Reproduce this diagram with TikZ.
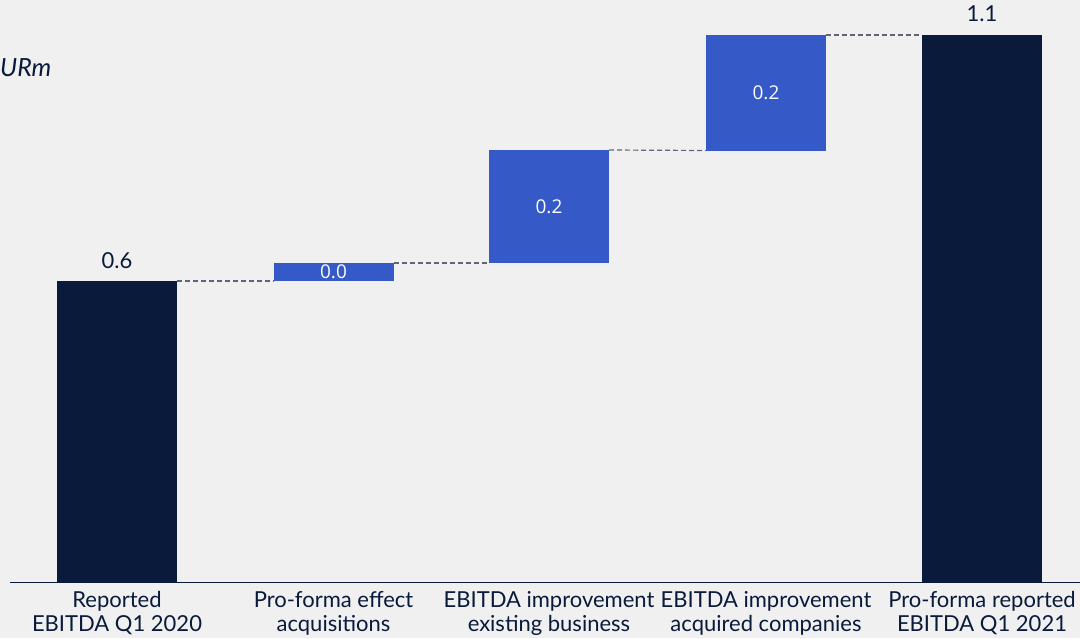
\documentclass[tikz,border=0pt]{standalone}
\usepackage{fontspec}
\setmainfont{Lato}
\newfontfamily\valfont{Open Sans}
\definecolor{bg}{HTML}{F0F0F0}
\definecolor{navy}{HTML}{0A1A3B}
\definecolor{barblue}{HTML}{3559C7}
\definecolor{dashgray}{HTML}{5F6677}
\begin{document}
\begin{tikzpicture}[x=1pt,y=-1pt,
  barbox/.style={rectangle, inner sep=0pt, outer sep=0pt, minimum width=120pt},
  totalbar/.style={barbox, fill=navy},
  deltabar/.style={barbox, fill=barblue, text=white, font=\valfont\fontsize{19}{22}\selectfont},
  catlabel/.style={align=center, text=navy, font=\fontsize{22}{24}\selectfont, anchor=north, inner sep=0pt},
  toplabel/.style={text=navy, font=\fontsize{22}{24}\selectfont, anchor=south, inner sep=0pt},
  link/.style={dashgray, dash pattern=on 5pt off 3pt, line width=1.2pt}]
\fill[bg] (0,0) rectangle (1080,638);
\useasboundingbox (0,0) rectangle (1080,638);
% bars
\node[totalbar, minimum height=301pt] (b1) at (117,431.5) {};
\node[deltabar, minimum height=18pt] (b2) at (333.5,272) {0.0};
\node[deltabar, minimum height=113pt] (b3) at (549,206.5) {0.2};
\node[deltabar, minimum height=115.5pt] (b4) at (766,92.75) {0.2};
\node[totalbar, minimum height=547pt] (b5) at (982,308.5) {};
% axis
\coordinate (axL) at (10,582.5);
\coordinate (axR) at (1080,582.5);
\draw[navy, line width=1.5pt] (axL) -- (axR);
% connectors
\draw[link] (b1.north east) -- (b2.south west);
\draw[link] (b2.north east) -- (b3.south west);
\draw[link] (b3.north east) -- (b4.south west);
\draw[link] (b4.north east) -- (b5.north west);
% value labels
\node[toplabel] (v1) at ([yshift=12pt]b1.north) {0.6};
\node[toplabel] (v5) at ([yshift=13pt]b5.north) {1.1};
% unit
\node[anchor=west, inner sep=0pt, text=navy, font=\itshape\fontsize{25}{28}\selectfont] (unit) at (0,68) {URm};
% category labels
\node[catlabel] (c1) at (117,591) {Reported\\EBITDA Q1 2020};
\node[catlabel] (c2) at (333.5,591) {Pro-forma effect\\acquisitions};
\node[catlabel] (c3) at (549,591) {EBITDA improvement\\existing business};
\node[catlabel] (c4) at (766,591) {EBITDA improvement\\acquired companies};
\node[catlabel] (c5) at (982,591) {Pro-forma reported\\EBITDA Q1 2021};
\end{tikzpicture}
\end{document}
